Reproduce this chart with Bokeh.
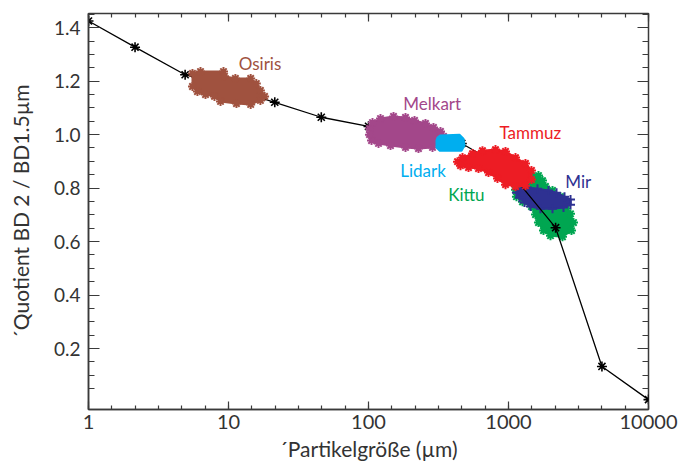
from bokeh.plotting import figure
from bokeh.models import FixedTicker, PrintfTickFormatter, LogAxis, LinearAxis, Range1d
from bokeh.core.properties import value
from bokeh.embed import file_html
from bokeh.resources import INLINE

# ---- data ----
x_ticks = [1, 10, 100, 1000, 10000]
y_ticks = [0.2, 0.4, 0.6, 0.8, 1.0, 1.2, 1.4]

# model curve (particle size in µm vs. quotient)
line_x = [1, 2.15, 4.9, 21.4, 46, 100, 464, 1000, 2170, 4650, 10000]
line_y = [1.425, 1.327, 1.224, 1.121, 1.065, 1.031, 0.967, 0.866, 0.652, 0.133, 0.009]

# cluster outlines
osiris_x = [5.53, 6.31, 9.21, 9.36, 11.2, 14.4, 15.8, 16.9, 18.1, 16.9, 14.4, 11.4, 8.77, 7.94, 6.85, 6.0, 5.53]
osiris_y = [1.229, 1.236, 1.236, 1.218, 1.21, 1.21, 1.191, 1.165, 1.143, 1.128, 1.113, 1.116, 1.124, 1.143, 1.150, 1.161, 1.18]

melkart_x = [101.6, 106.8, 121.8, 150.9, 183.8, 213.2, 255.3, 291.2, 326.7, 343.5, 326.7, 286.5, 227.5, 183.8, 143.6, 117.9, 105.1, 101.6]
melkart_y = [1.023, 1.045, 1.060, 1.068, 1.064, 1.053, 1.042, 1.027, 1.012, 0.993, 0.970, 0.952, 0.948, 0.952, 0.959, 0.967, 0.978, 1.000]

lidark_x = [311.1, 326.7, 446.7, 477.1, 485.0, 461.8, 321.4, 306.0, 306.0]
lidark_y = [0.989, 0.997, 1.000, 0.985, 0.959, 0.940, 0.940, 0.952, 0.978]

tammuz_x = [432.3, 469.3, 553.3, 651.6, 807.5, 952.0, 1122, 1322, 1459, 1459, 1322, 1122, 952.0, 834.2, 719.7, 610.5, 517.9, 454.0]
tammuz_y = [0.899, 0.914, 0.929, 0.940, 0.944, 0.937, 0.914, 0.892, 0.866, 0.832, 0.809, 0.806, 0.813, 0.836, 0.858, 0.873, 0.877, 0.884]

kittu_x = [1301, 1436, 1637, 1750, 1837, 2062, 2351, 2596, 2773, 2913, 2818, 2430, 1995, 1778, 1637, 1559, 1459, 1259, 1140, 1122, 1198]
kittu_y = [0.843, 0.854, 0.847, 0.828, 0.806, 0.791, 0.768, 0.734, 0.704, 0.671, 0.641, 0.618, 0.622, 0.641, 0.671, 0.701, 0.731, 0.749, 0.768, 0.794, 0.817]

mir_x = [1159, 1367, 1611, 1931, 2203, 2512, 2773, 2773, 2471, 2062, 1693, 1436, 1301, 1198, 1140]
mir_y = [0.798, 0.802, 0.798, 0.791, 0.783, 0.768, 0.757, 0.738, 0.727, 0.723, 0.723, 0.731, 0.746, 0.764, 0.783]

label_names = ["Osiris", "Melkart", "Tammuz", "Lidark", "Kittu", "Mir"]
label_x = [16.8, 285, 1430, 245, 500, 3150]
label_y = [1.266, 1.115, 1.008, 0.864, 0.776, 0.826]
label_colors = ["#A0523F", "#A3478A", "#ED1C24", "#00AEEF", "#00A651", "#2E3192"]

C_OSIRIS, C_MELKART, C_TAMMUZ, C_LIDARK, C_KITTU, C_MIR = label_colors

FONT = "Lato"
AXC = "#3a3a3a"

p = figure(width=680, height=467, x_axis_type="log",
           x_range=Range1d(1, 10000), y_range=Range1d(-0.028, 1.453),
           output_backend="svg", toolbar_location=None,
           min_border_left=88, min_border_right=32, min_border_top=13, min_border_bottom=58)
p.grid.visible = False
p.outline_line_color = AXC
p.outline_line_width = 1.5
p.background_fill_color = "white"
p.border_fill_color = "white"

x_minor = [10 ** (k / 6) for k in range(25)]
y_minor = [round(0.05 * k, 2) for k in range(1, 30)]

def common(ax):
    ax.axis_line_color = AXC
    ax.axis_line_width = 1.5
    ax.major_tick_line_color = AXC
    ax.minor_tick_line_color = AXC
    ax.major_tick_line_width = 1.2
    ax.minor_tick_line_width = 1.2
    ax.major_tick_out = 0
    ax.minor_tick_out = 0

# main axes
xa = p.xaxis[0]
common(xa)
xa.ticker = FixedTicker(ticks=x_ticks, minor_ticks=x_minor)
xa.formatter = PrintfTickFormatter(format="%d")
xa.major_tick_in = 8
xa.minor_tick_in = 4
xa.major_label_text_font = FONT
xa.major_label_text_font_size = "20px"
xa.major_label_text_color = "#333333"
xa.major_label_standoff = 5

ya = p.yaxis[0]
common(ya)
ya.ticker = FixedTicker(ticks=y_ticks, minor_ticks=y_minor)
ya.formatter = PrintfTickFormatter(format="%.1f")
ya.major_tick_in = 11
ya.minor_tick_in = 6
ya.major_label_text_font = FONT
ya.major_label_text_font_size = "19px"
ya.major_label_text_color = "#333333"
ya.major_label_standoff = 8

xa.axis_label = "´Partikelgröße (µm)"
ya.axis_label = "´Quotient BD 2 / BD1.5µm"
for ax in (xa, ya):
    ax.axis_label_text_font = FONT
    ax.axis_label_text_font_size = "21px"
    ax.axis_label_text_font_style = "normal"
    ax.axis_label_text_color = "#333333"
xa.axis_label_standoff = 4
ya.axis_label_standoff = 18

# mirrored tick marks on top and right (tick marks only, no labels)
def tick_only_axis(cls, ticks, length, place):
    ax = cls(ticker=FixedTicker(ticks=[], minor_ticks=ticks))
    common(ax)
    ax.axis_line_color = None
    ax.minor_tick_in = length
    ax.major_label_standoff = 0
    p.add_layout(ax, place)

tick_only_axis(LogAxis, x_minor, 4, "above")
tick_only_axis(LogAxis, x_ticks, 8, "above")
tick_only_axis(LinearAxis, y_minor, 6, "right")
tick_only_axis(LinearAxis, y_ticks, 11, "right")

def cluster(xs, ys, color, marker="asterisk"):
    p.patch(xs, ys, fill_color=color, line_color=color, line_width=2, line_join="round")
    if marker:
        p.scatter(xs, ys, marker=marker, size=9, line_color=color, line_width=2)

# clusters below the curve
cluster(kittu_x, kittu_y, C_KITTU)
cluster(mir_x, mir_y, C_MIR, marker="cross")

# model curve
p.line(line_x, line_y, line_color="black", line_width=1.3)
p.scatter(line_x, line_y, marker="asterisk", size=10, line_color="black", line_width=1.6)

# clusters above the curve
cluster(osiris_x, osiris_y, C_OSIRIS)
cluster(melkart_x, melkart_y, C_MELKART)
cluster(lidark_x, lidark_y, C_LIDARK, marker=None)
cluster(tammuz_x, tammuz_y, C_TAMMUZ)

p.text(x=label_x, y=label_y, text=label_names, text_color=label_colors,
       text_font=value(FONT), text_font_size="17px",
       text_align="center", text_baseline="middle")

open("out.html", "w").write(file_html(p, INLINE))
